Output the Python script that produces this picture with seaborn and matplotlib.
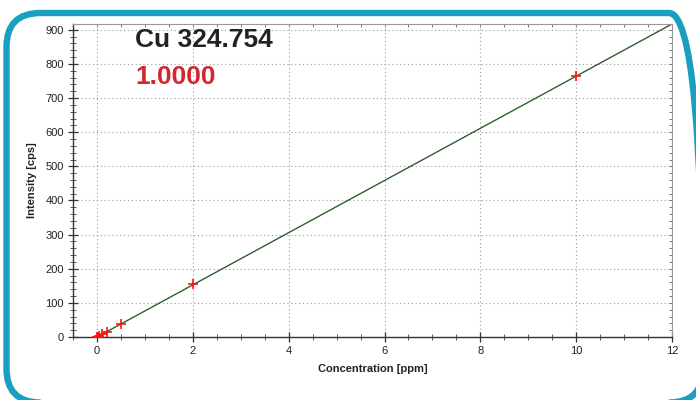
import matplotlib
matplotlib.use("Agg")
import matplotlib.pyplot as plt
import seaborn as sns
import pandas as pd
from matplotlib.patches import FancyBboxPatch
from matplotlib.ticker import MultipleLocator

sns.set_theme(style="white")
plt.rcParams['font.family'] = ['Liberation Sans', 'DejaVu Sans']

# data
conc = [0.0, 0.05, 0.1, 0.2, 0.5, 2.0, 10.0]
intensity = [0.0, 4.0, 8.0, 15.5, 39.0, 154.0, 764.0]
fit_x = [0.0, 12.0]
fit_y = [0.0, 917.0]
title_text = "Cu 324.754"
r_text = "1.0000"
x_ticks = [0, 2, 4, 6, 8, 10, 12]
y_ticks = [0, 100, 200, 300, 400, 500, 600, 700, 800, 900]

pts = pd.DataFrame({"c": conc, "i": intensity})
fit = pd.DataFrame({"c": fit_x, "i": fit_y})

fig = plt.figure(figsize=(6.96, 4.0), dpi=100)
ax = fig.add_axes([0.105, 0.1575, 0.8605, 0.7825])

# rounded frame (in inches, so corners are circular)
frame = FancyBboxPatch((0.065, -0.025), 6.965, 3.895,
                       boxstyle="round,pad=0,rounding_size=0.34",
                       transform=fig.dpi_scale_trans, fill=False,
                       edgecolor="#1a9fc0", linewidth=4.6, zorder=0)
fig.patches.append(frame)

sns.lineplot(data=fit, x="c", y="i", ax=ax, color="#2f5f2f", linewidth=1.0, zorder=2)
sns.scatterplot(data=pts, x="c", y="i", ax=ax, marker="+", color="#ff1010",
                s=45, linewidth=1.2, zorder=3)

ax.set_xlim(-0.5, 12)
ax.set_ylim(0, 917)
ax.set_xticks(x_ticks)
ax.set_yticks(y_ticks)
ax.xaxis.set_minor_locator(MultipleLocator(0.5))
ax.yaxis.set_minor_locator(MultipleLocator(20))
ax.tick_params(which="major", direction="inout", length=7, width=0.9, color="#333333",
               labelsize=8, labelcolor="#222222", pad=3, bottom=True, left=True,
               top=False, right=False)
ax.tick_params(which="minor", direction="inout", length=4.5, width=0.7, color="#555555",
               bottom=True, left=True, top=False, right=False)

# top / right: short inward ticks, no labels
secx = ax.secondary_xaxis("top")
secx.set_xticks(x_ticks)
secx.xaxis.set_minor_locator(MultipleLocator(0.5))
secx.tick_params(which="both", direction="in", length=2.5, width=0.7, color="#777777",
                 top=True, labeltop=False)
secy = ax.secondary_yaxis("right")
secy.set_yticks(y_ticks)
secy.yaxis.set_minor_locator(MultipleLocator(20))
secy.tick_params(which="both", direction="in", length=2.5, width=0.7, color="#777777",
                 right=True, labelright=False)
for sa in (secx, secy):
    for sp in sa.spines.values():
        sp.set_visible(False)

for s in ["left", "bottom"]:
    ax.spines[s].set_color("#333333")
    ax.spines[s].set_linewidth(1.0)
for s in ["top", "right"]:
    ax.spines[s].set_color("#999999")
    ax.spines[s].set_linewidth(0.8)
ax.grid(True, which="major", linestyle=(0, (1, 2.5)), color="#999999", linewidth=0.8)
ax.set_axisbelow(True)

ax.set_xlabel("Concentration [ppm]", fontsize=8, fontweight="bold", color="#222222", labelpad=6)
ax.set_ylabel("Intensity [cps]", fontsize=8, fontweight="bold", color="#222222", labelpad=6)

fig.text(0.194, 0.9, title_text, fontsize=19, fontweight="bold", color="#222222", va="center")
fig.text(0.194, 0.808, r_text, fontsize=19, fontweight="bold", color="#d42630", va="center")

fig.savefig("out.png", dpi=100)
